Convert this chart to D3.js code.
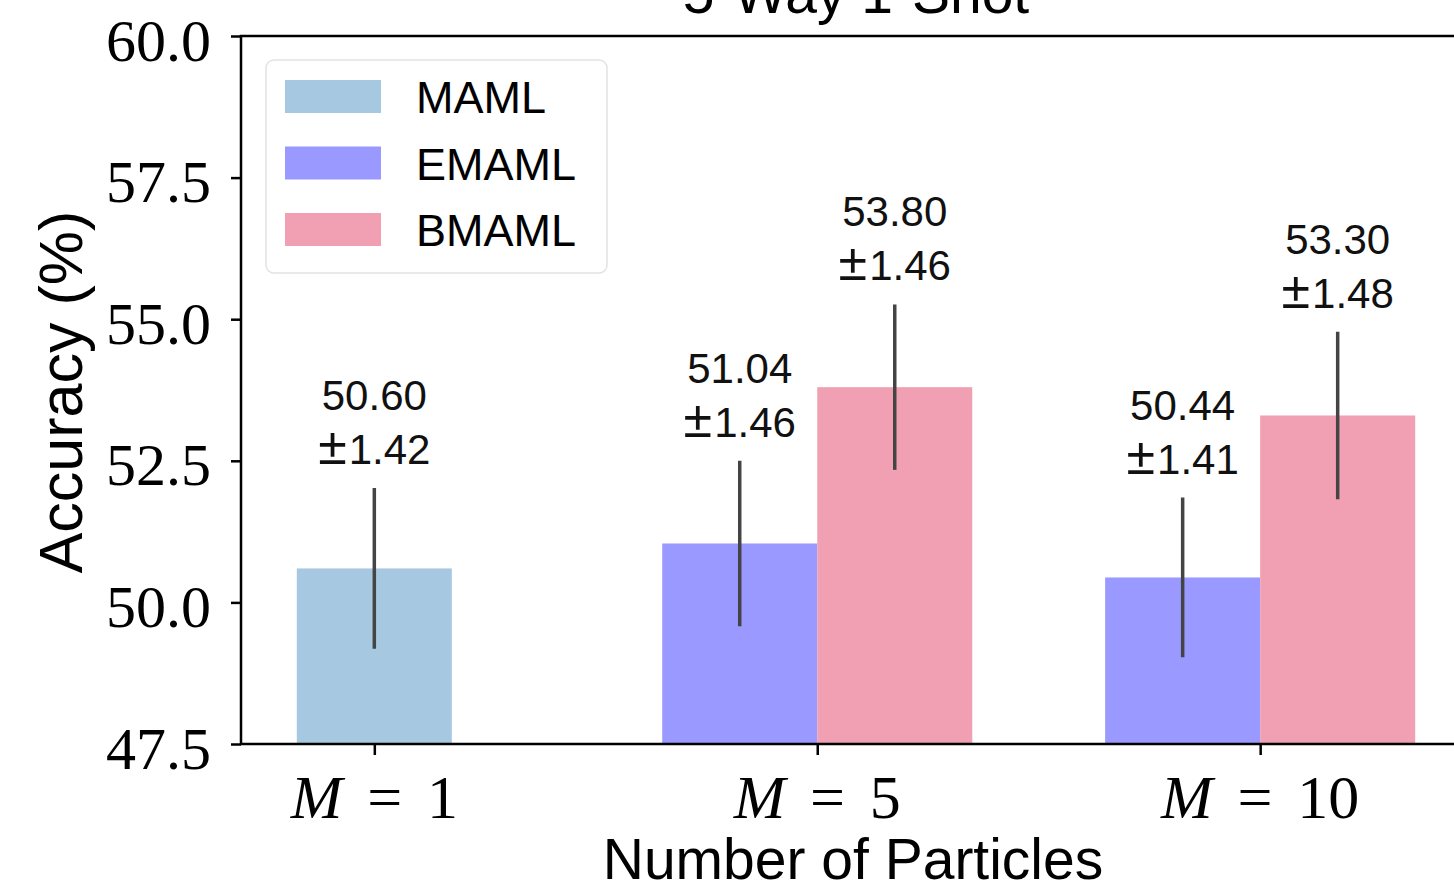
<!DOCTYPE html>
<html lang="en">
<head>
<meta charset="utf-8">
<title>5-Way 1-Shot</title>
<script src="https://cdn.jsdelivr.net/npm/d3@7"></script>
<style>
  body { margin: 0; background: #fff; }
  .sans { font-family: "Liberation Sans", Arial, sans-serif; }
  .serif { font-family: "Liberation Serif", "Times New Roman", serif; }
</style>
</head>
<body>
<div id="chart"></div>
<script>
// data
var categories = ["1", "5", "10"];
var methods = ["MAML", "EMAML", "BMAML"];
var mamlAcc = [50.60, null, null];
var mamlErr = [1.42, null, null];
var emamlAcc = [null, 51.04, 50.44];
var emamlErr = [null, 1.46, 1.41];
var bmamlAcc = [null, 53.80, 53.30];
var bmamlErr = [null, 1.46, 1.48];
var yTicks = [47.5, 50.0, 52.5, 55.0, 57.5, 60.0];

var width = 1454, height = 893;
var barW = 0.35;

var series = [
  { name: methods[0], acc: mamlAcc,  err: mamlErr,  color: "#a6c8e0", shift: 0 },
  { name: methods[1], acc: emamlAcc, err: emamlErr, color: "#9999ff", shift: -barW / 2 },
  { name: methods[2], acc: bmamlAcc, err: bmamlErr, color: "#f0a0b2", shift: barW / 2 }
];

var svg = d3.select("#chart").append("svg")
    .attr("width", width)
    .attr("height", height);

// matplotlib-like 5% margins around the bars
var x = d3.scaleLinear().domain([-0.301, 2.476]).range([241, 1471]);
var y = d3.scaleLinear().domain([47.5, 60]).range([744, 36]);

// bars
series.forEach(function(s) {
  var rows = s.acc.map(function(v, i) { return { i: i, v: v, e: s.err[i] }; })
    .filter(function(d) { return d.v != null; });

  svg.append("g").selectAll("rect")
    .data(rows)
    .enter().append("rect")
      .attr("x", function(d) { return x(d.i + s.shift - barW / 2); })
      .attr("width", function(d) { return x(barW) - x(0); })
      .attr("y", function(d) { return y(d.v); })
      .attr("height", function(d) { return y(47.5) - y(d.v); })
      .attr("fill", s.color);

  svg.append("g").selectAll("line")
    .data(rows)
    .enter().append("line")
      .attr("x1", function(d) { return x(d.i + s.shift); })
      .attr("x2", function(d) { return x(d.i + s.shift); })
      .attr("y1", function(d) { return y(d.v - d.e); })
      .attr("y2", function(d) { return y(d.v + d.e); })
      .attr("stroke", "#444")
      .attr("stroke-width", 3.5);

  var lab = svg.append("g").attr("class", "sans")
    .selectAll("text")
    .data(rows)
    .enter().append("text")
      .attr("text-anchor", "middle")
      .attr("font-size", 42)
      .attr("fill", "#111");
  lab.append("tspan")
      .attr("x", function(d) { return x(d.i + s.shift); })
      .attr("y", function(d) { return y(d.v + d.e) - 78; })
      .text(function(d) { return d.v.toFixed(2); });
  lab.append("tspan")
      .attr("x", function(d) { return x(d.i + s.shift); })
      .attr("y", function(d) { return y(d.v + d.e) - 24; })
      .attr("font-size", 52)
      .attr("font-weight", 300)
      .text("\u00b1");
  lab.append("tspan")
      .attr("dx", 2)
      .text(function(d) { return d.e.toFixed(2); });
});

// axes
var yAxis = d3.axisLeft(y).tickValues(yTicks).tickSize(10).tickFormat(d3.format(".1f"));
var gy = svg.append("g").attr("transform", "translate(241,0)").call(yAxis);
gy.select(".domain").remove();
gy.selectAll(".tick line").attr("stroke", "#000").attr("stroke-width", 2.5);
gy.selectAll(".tick text")
    .attr("class", "serif")
    .attr("font-size", 60)
    .attr("fill", "#000")
    .attr("x", -30)
    .attr("dy", "0.4em");

var xAxis = d3.axisBottom(x).tickValues([0, 1, 2]).tickSize(11).tickFormat("");
var gx = svg.append("g").attr("transform", "translate(0,744)").call(xAxis);
gx.select(".domain").remove();
gx.selectAll(".tick line").attr("stroke", "#000").attr("stroke-width", 2.5);

var xl = svg.append("g").attr("class", "serif")
  .selectAll("text")
  .data(categories)
  .enter().append("text")
    .attr("x", function(d, i) { return x(i); })
    .attr("y", 818)
    .attr("text-anchor", "middle")
    .attr("font-size", 62);
xl.append("tspan").attr("font-style", "italic").text("M");
xl.append("tspan").attr("dx", "0.4em").text("=");
xl.append("tspan").attr("dx", "0.4em").text(function(d) { return d; });

// spines (left, bottom, top; right one falls outside the picture)
svg.append("path")
    .attr("d", "M" + x.range()[1] + "," + y(60) + "H241V744H" + x.range()[1])
    .attr("fill", "none")
    .attr("stroke", "#000")
    .attr("stroke-width", 2.5);
svg.append("line")
    .attr("x1", x.range()[1]).attr("x2", x.range()[1])
    .attr("y1", y(60)).attr("y2", y(47.5))
    .attr("stroke", "#000").attr("stroke-width", 2.5);

// titles
svg.append("text").attr("class", "sans")
    .attr("x", 856).attr("y", 13)
    .attr("text-anchor", "middle").attr("font-size", 57)
    .text("5-Way 1-Shot");
svg.append("text").attr("class", "sans")
    .attr("x", 853).attr("y", 879)
    .attr("text-anchor", "middle").attr("font-size", 57)
    .text("Number of Particles");
svg.append("text").attr("class", "sans")
    .attr("transform", "translate(82,392) rotate(-90)")
    .attr("text-anchor", "middle").attr("font-size", 61)
    .text("Accuracy (%)");

// legend
var legend = svg.append("g").attr("transform", "translate(266,60)");
legend.append("rect")
    .attr("width", 341).attr("height", 213).attr("rx", 8)
    .attr("fill", "#fff").attr("fill-opacity", 0.8)
    .attr("stroke", "#e2e2e2").attr("stroke-width", 1.5);
var item = legend.selectAll(".item")
  .data(series)
  .enter().append("g")
    .attr("transform", function(d, i) { return "translate(19," + (20 + i * 66.5) + ")"; });
item.append("rect")
    .attr("width", 96).attr("height", 33)
    .attr("fill", function(d) { return d.color; });
item.append("text").attr("class", "sans")
    .attr("x", 131).attr("y", 33)
    .attr("font-size", 45)
    .text(function(d) { return d.name; });
</script>
</body>
</html>
